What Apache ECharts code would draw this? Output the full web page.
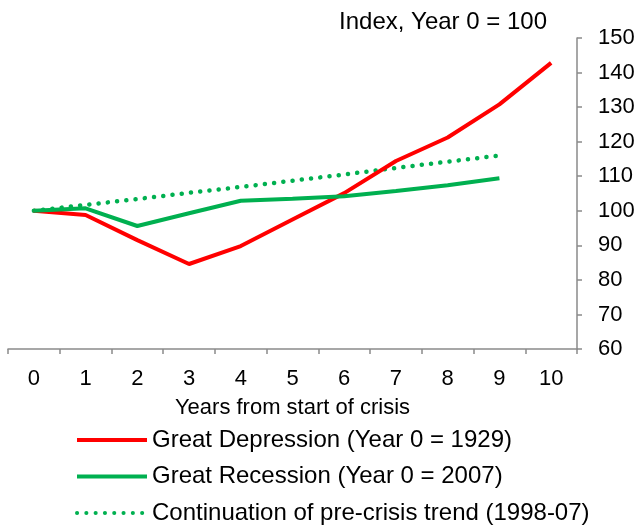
<!DOCTYPE html>
<html>
<head>
<meta charset="utf-8">
<style>html,body{margin:0;padding:0;background:#fff;}#chart{width:636px;height:529px;}</style>
<script src="https://cdn.jsdelivr.net/npm/echarts@6/dist/echarts.min.js"></script>
</head>
<body>
<div id="chart"></div>
<script>
const years = ['0','1','2','3','4','5','6','7','8','9','10'];
const greatDepression = [100, 98.8, 91.5, 84.6, 89.8, 97.5, 105.1, 114.4, 121.2, 130.8, 142.8];
const greatRecession = [100, 100.7, 95.6, 99.3, 102.9, 103.5, 104.2, 105.7, 107.4, 109.4];
const preCrisisTrend = [100, 101.7, 103.4, 105.2, 106.9, 108.7, 110.5, 112.4, 114.2, 116.0];
const yTicks = {min: 60, max: 150, interval: 10};

const FONT = '"Liberation Sans", Arial, sans-serif';
const AXIS = '#8a8a8a';
const chart = echarts.init(document.getElementById('chart'), null, {renderer: 'canvas'});
chart.setOption({
  backgroundColor: '#fff',
  animation: false,
  title: {
    text: 'Index, Year 0 = 100',
    right: 89, top: 10, padding: 0,
    textStyle: {fontFamily: FONT, fontSize: 24, fontWeight: 'normal', color: '#000'}
  },
  grid: {left: 8, right: 59, top: 38, bottom: 180, containLabel: false, outerBoundsMode: 'none'},
  legend: {
    orient: 'vertical', left: 75, top: 428, padding: 0,
    itemWidth: 70, itemHeight: 24, itemGap: 12.5,
    lineStyle: {width: 4},
    itemStyle: {opacity: 0, borderWidth: 0},
    textStyle: {fontFamily: FONT, fontSize: 24, color: '#000', padding: [0, 0, 0, 0]},
    data: ['Great Depression (Year 0 = 1929)', 'Great Recession (Year 0 = 2007)', 'Continuation of pre-crisis trend (1998-07)']
  },
  xAxis: {
    type: 'category', data: years, boundaryGap: true,
    name: 'Years from start of crisis', nameLocation: 'middle', nameGap: 48,
    nameTextStyle: {fontFamily: FONT, fontSize: 22, color: '#000'},
    axisLine: {show: true, lineStyle: {color: AXIS, width: 1.5}},
    axisTick: {show: true, length: 5, alignWithLabel: false, lineStyle: {color: AXIS, width: 1.5}},
    axisLabel: {fontFamily: FONT, fontSize: 22, color: '#000', margin: 19, interval: 0},
    splitLine: {show: false}
  },
  yAxis: {
    type: 'value', position: 'right', min: yTicks.min, max: yTicks.max, interval: yTicks.interval,
    axisLine: {show: true, lineStyle: {color: AXIS, width: 1.5}},
    axisTick: {show: true, length: 5, lineStyle: {color: AXIS, width: 1.5}},
    axisLabel: {fontFamily: FONT, fontSize: 22, color: '#000', margin: 21},
    splitLine: {show: false}
  },
  series: [
    {
      name: 'Great Depression (Year 0 = 1929)', type: 'line', data: greatDepression,
      symbol: 'none', color: '#ff0000',
      lineStyle: {color: '#ff0000', width: 4}, z: 3
    },
    {
      name: 'Great Recession (Year 0 = 2007)', type: 'line', data: greatRecession,
      symbol: 'none', color: '#00b050',
      lineStyle: {color: '#00b050', width: 4}, z: 4
    },
    {
      name: 'Continuation of pre-crisis trend (1998-07)', type: 'line', data: preCrisisTrend,
      symbol: 'none', color: '#00b050',
      lineStyle: {color: '#00b050', width: 4.5, type: [0.1, 9.2], cap: 'round'}, z: 2
    }
  ]
});
</script>
</body>
</html>
